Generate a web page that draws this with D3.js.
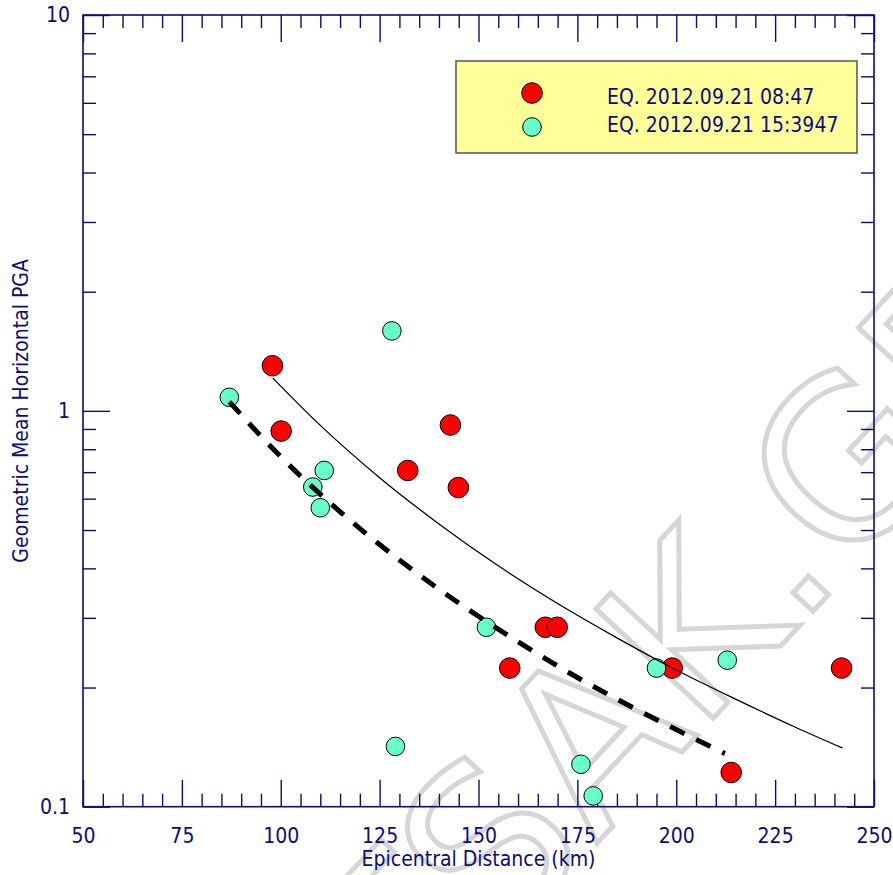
<!DOCTYPE html>
<html>
<head>
<meta charset="utf-8">
<script src="https://cdn.jsdelivr.net/npm/d3@7"></script>
<style>
  body { margin: 0; background: #fff; }
  svg { display: block; }
</style>
</head>
<body>
<div id="chart"></div>
<script>
// Data
const quake1Dist = [97.9, 100.1, 132.1, 142.9, 144.9, 157.9, 166.9, 169.9, 199.0, 213.9, 241.8];
const quake1Pga  = [1.30, 0.889, 0.707, 0.921, 0.640, 0.224, 0.284, 0.284, 0.224, 0.122, 0.224];

const quake2Dist = [87.0, 108.1, 110.0, 111.0, 128.1, 129.0, 152.0, 175.9, 179.0, 195.0, 212.9];
const quake2Pga  = [1.082, 0.642, 0.569, 0.707, 1.592, 0.142, 0.284, 0.128, 0.1065, 0.224, 0.2345];

// fitted curves as drawn
const fit1Dist = [98, 110, 125, 140, 155, 170, 185, 200, 215, 230, 242];
const fit1Pga  = [1.21, 0.919, 0.678, 0.518, 0.406, 0.326, 0.267, 0.2215, 0.187, 0.159, 0.1407];

const fit2Dist = [87, 100, 115, 130, 145, 160, 175, 190, 212.3];
const fit2Pga  = [1.054, 0.766, 0.556, 0.420, 0.327, 0.261, 0.212, 0.176, 0.1363];

const legendLabels = ['EQ. 2012.09.21 08:47', 'EQ. 2012.09.21 15:3947'];
const xMajorTicks = [50, 75, 100, 125, 150, 175, 200, 225, 250];
const yMajorTicks = [0.1, 1, 10];

const width = 893, height = 875;
const plot = { left: 83, top: 15, right: 874, bottom: 806.7 };
const navy = '#0c0c78';
const font = '"DejaVu Sans Condensed", "DejaVu Sans", sans-serif';

const svg = d3.select('#chart').append('svg')
  .attr('width', width)
  .attr('height', height)
  .style('font-family', font);

// watermark
svg.append('text')
  .attr('transform', 'translate(362,1095) rotate(-47)')
  .attr('font-family', '"DejaVu Sans", sans-serif')
  .attr('font-size', 220)
  .attr('fill', 'none')
  .attr('stroke', '#d6d6d6')
  .attr('stroke-width', 5)
  .text('ITSAK.GR');

const x = d3.scaleLinear().domain([50, 250]).range([plot.left, plot.right]);
const y = d3.scaleLog().domain([0.1, 10]).range([plot.bottom, plot.top]);

const xMinor = d3.range(50, 251, 5).filter(v => v % 25 !== 0);
const yMinor = [];
[0.1, 1].forEach(d => { for (let k = 2; k <= 9; k++) yMinor.push(+(d * k).toFixed(3)); });

function styleAxis(g) {
  g.select('.domain').remove();
  g.selectAll('line').attr('stroke', navy).attr('stroke-width', 1.4);
  g.selectAll('text').attr('fill', navy).attr('font-size', 21).attr('font-family', font);
}

// bottom
svg.append('g').attr('transform', `translate(0,${plot.bottom})`)
  .call(d3.axisBottom(x).tickValues(xMajorTicks).tickSize(-27).tickPadding(21).tickFormat(d3.format('d')))
  .call(styleAxis);
svg.append('g').attr('transform', `translate(0,${plot.bottom})`)
  .call(d3.axisBottom(x).tickValues(xMinor).tickSize(-13).tickFormat(''))
  .call(styleAxis);
// top
svg.append('g').attr('transform', `translate(0,${plot.top})`)
  .call(d3.axisTop(x).tickValues(xMajorTicks).tickSize(-27).tickFormat(''))
  .call(styleAxis);
svg.append('g').attr('transform', `translate(0,${plot.top})`)
  .call(d3.axisTop(x).tickValues(xMinor).tickSize(-13).tickFormat(''))
  .call(styleAxis);
// left
svg.append('g').attr('transform', `translate(${plot.left},0)`)
  .call(d3.axisLeft(y).tickValues(yMajorTicks).tickSize(-27).tickPadding(13).tickFormat(d => d === 0.1 ? '0.1' : String(d)))
  .call(styleAxis);
svg.append('g').attr('transform', `translate(${plot.left},0)`)
  .call(d3.axisLeft(y).tickValues(yMinor).tickSize(-13).tickFormat(''))
  .call(styleAxis);
// right
svg.append('g').attr('transform', `translate(${plot.right},0)`)
  .call(d3.axisRight(y).tickValues(yMajorTicks).tickSize(-27).tickFormat(''))
  .call(styleAxis);
svg.append('g').attr('transform', `translate(${plot.right},0)`)
  .call(d3.axisRight(y).tickValues(yMinor).tickSize(-13).tickFormat(''))
  .call(styleAxis);

// frame
svg.append('rect')
  .attr('x', plot.left).attr('y', plot.top)
  .attr('width', plot.right - plot.left).attr('height', plot.bottom - plot.top)
  .attr('fill', 'none').attr('stroke', navy).attr('stroke-width', 1.6);

// axis titles
svg.append('text')
  .attr('x', (plot.left + plot.right) / 2).attr('y', 866)
  .attr('text-anchor', 'middle').attr('fill', navy).attr('font-size', 21)
  .text('Epicentral Distance (km)');
svg.append('text')
  .attr('transform', `translate(28,${(plot.top + plot.bottom) / 2}) rotate(-90)`)
  .attr('text-anchor', 'middle').attr('fill', navy).attr('font-size', 21)
  .text('Geometric Mean Horizontal PGA');

// points
const series1 = quake1Dist.map((d, i) => ({ dist: d, pga: quake1Pga[i] }));
const series2 = quake2Dist.map((d, i) => ({ dist: d, pga: quake2Pga[i] }));

svg.append('g').selectAll('circle').data(series1).enter().append('circle')
  .attr('cx', d => x(d.dist)).attr('cy', d => y(d.pga)).attr('r', 10.3)
  .attr('fill', '#ff0000').attr('stroke', '#000').attr('stroke-width', 1);
svg.append('g').selectAll('circle').data(series2).enter().append('circle')
  .attr('cx', d => x(d.dist)).attr('cy', d => y(d.pga)).attr('r', 9.3)
  .attr('fill', '#66ffcc').attr('stroke', '#000').attr('stroke-width', 1);

// fit curves
const line = d3.line().x(d => x(d[0])).y(d => y(d[1])).curve(d3.curveMonotoneX);
svg.append('path')
  .attr('d', line(fit1Dist.map((d, i) => [d, fit1Pga[i]])))
  .attr('fill', 'none').attr('stroke', '#000').attr('stroke-width', 1.3);
svg.append('path')
  .attr('d', line(fit2Dist.map((d, i) => [d, fit2Pga[i]])))
  .attr('fill', 'none').attr('stroke', '#000').attr('stroke-width', 5)
  .attr('stroke-dasharray', '16,13');

// legend
const legend = svg.append('g');
legend.append('rect')
  .attr('x', 456).attr('y', 61).attr('width', 401).attr('height', 92)
  .attr('fill', '#ffff99').attr('stroke', '#555').attr('stroke-width', 1.5);
const legendItems = [
  { label: legendLabels[0], fill: '#ff0000', r: 10.3, cy: 93, ty: 104 },
  { label: legendLabels[1], fill: '#66ffcc', r: 9.3, cy: 127, ty: 132 }
];
legendItems.forEach(it => {
  legend.append('circle').attr('cx', 532).attr('cy', it.cy).attr('r', it.r)
    .attr('fill', it.fill).attr('stroke', '#000').attr('stroke-width', 1);
  legend.append('text').attr('x', 607).attr('y', it.ty)
    .attr('fill', navy).attr('font-size', 21).text(it.label);
});
</script>
</body>
</html>
